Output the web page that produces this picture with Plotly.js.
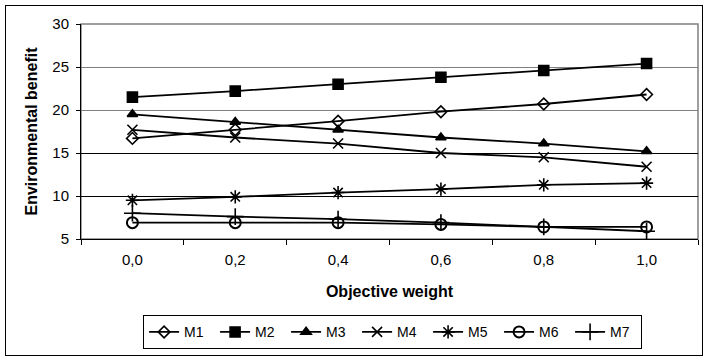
<!DOCTYPE html>
<html>
<head>
<meta charset="utf-8">
<script src="https://cdn.plot.ly/plotly-3.0.1.min.js"></script>
<style>
html,body{margin:0;padding:0;background:#fff;}
#frame{position:absolute;left:5px;top:5px;width:696px;height:349px;border:1px solid #000;}
#chart{position:absolute;left:0;top:0;width:705px;height:360px;}
</style>
</head>
<body>
<div id="chart"></div>
<div id="frame"></div>
<script>
const categories = ["0,0","0,2","0,4","0,6","0,8","1,0"];
const M1 = [16.7, 17.7, 18.7, 19.8, 20.7, 21.8];
const M2 = [21.5, 22.2, 23.0, 23.8, 24.6, 25.4];
const M3 = [19.5, 18.6, 17.7, 16.8, 16.1, 15.2];
const M4 = [17.7, 16.8, 16.1, 15.0, 14.5, 13.4];
const M5 = [9.5, 9.9, 10.4, 10.8, 11.3, 11.5];
const M6 = [6.9, 6.9, 6.9, 6.7, 6.4, 6.4];
const M7 = [8.0, 7.6, 7.3, 6.9, 6.4, 5.9];
const seriesNames = ["M1","M2","M3","M4","M5","M6","M7"];
const seriesData = [M1, M2, M3, M4, M5, M6, M7];
const symbols = ["diamond-open","square","triangle-up","x-thin-open","asterisk-open","circle-open","cross-thin-open"];
const sizes = [9, 10, 9, 10, 11, 11, 12];

const traces = seriesData.map((vals, i) => ({
  type: 'scatter', mode: 'lines+markers',
  name: seriesNames[i], x: categories, y: vals,
  line: {color: '#000', width: 1.8},
  marker: {symbol: symbols[i], size: sizes[i], color: '#000',
           line: {color: '#000', width: (symbols[i] === 'circle-open' ? 2 : 1.6)}}
}));
// extra axis to draw the darker gridlines
traces.push({type:'scatter', mode:'none', x: categories, y:[null,null,null,null,null,null],
  yaxis:'y2', showlegend:false, hoverinfo:'skip'});

const layout = {
  width: 705, height: 360,
  margin: {l: 81, r: 7, t: 24, b: 121},
  paper_bgcolor: '#fff', plot_bgcolor: '#fff',
  font: {family: 'Liberation Sans, Arial, sans-serif', size: 13, color: '#000'},
  showlegend: true,
  legend: {orientation: 'h', x: 0.505, xanchor: 'center', y: -0.355, yanchor: 'top',
           bordercolor: '#000', borderwidth: 1, font: {size: 14},
           entrywidth: 26, entrywidthmode: 'pixels',
           itemwidth: 30, tracegroupgap: 0},
  xaxis: {type: 'category', range: [-0.5, 5.5], tickson: 'boundaries',
          ticks: 'outside', ticklen: 5, tickcolor: '#000',
          showline: true, linecolor: '#000', linewidth: 1,
          showgrid: false, zeroline: false, ticklabelstandoff: 7,
          tickfont: {size: 15},
          title: {text: '<b>Objective weight</b>', font: {size: 16}, standoff: 18}},
  yaxis: {range: [5, 30], dtick: 5, ticks: 'outside', ticklen: 4, tickcolor: '#000',
          showline: true, linecolor: '#000', linewidth: 1,
          showgrid: true, gridcolor: '#808080', gridwidth: 1, zeroline: false,
          ticklabelstandoff: 4,
          tickfont: {size: 15},
          title: {text: '<b>Environmental benefit</b>', font: {size: 16}, standoff: 10}},
  yaxis2: {overlaying: 'y', range: [5, 30], tickvals: [10, 15], showticklabels: false,
           ticks: '', showgrid: true, gridcolor: '#000', gridwidth: 1, zeroline: false,
           showline: false},
  shapes: [{type: 'rect', xref: 'paper', yref: 'paper', x0: 0, x1: 1, y0: 0, y1: 1,
            line: {color: '#808080', width: 1.5}, layer: 'below'}]
};

Plotly.newPlot('chart', traces, layout, {displayModeBar: false, staticPlot: true});
</script>
</body>
</html>
